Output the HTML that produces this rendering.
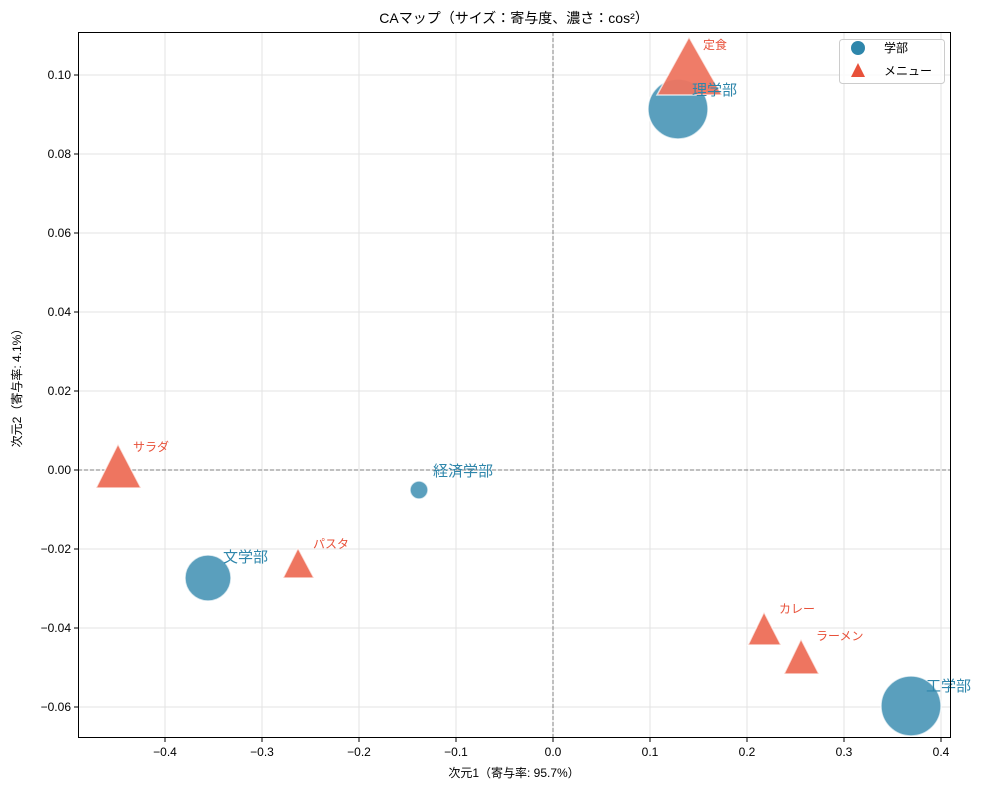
<!DOCTYPE html>
<html><head><meta charset="utf-8"><style>body{margin:0;background:#fff}svg{display:block}text{font-family:"Liberation Sans","Noto Sans CJK JP",sans-serif}</style></head><body>
<svg width="985" height="790" viewBox="0 0 985 790" xmlns="http://www.w3.org/2000/svg">
<rect width="985" height="790" fill="#fff"/>
<g stroke="#e3e3e3" stroke-width="1">
<line x1="165" y1="32" x2="165" y2="738"/><line x1="262" y1="32" x2="262" y2="738"/><line x1="359" y1="32" x2="359" y2="738"/><line x1="456" y1="32" x2="456" y2="738"/><line x1="553" y1="32" x2="553" y2="738"/><line x1="650" y1="32" x2="650" y2="738"/><line x1="747" y1="32" x2="747" y2="738"/><line x1="844" y1="32" x2="844" y2="738"/><line x1="941" y1="32" x2="941" y2="738"/>
<line x1="78" y1="75" x2="951" y2="75"/><line x1="78" y1="154" x2="951" y2="154"/><line x1="78" y1="233" x2="951" y2="233"/><line x1="78" y1="312" x2="951" y2="312"/><line x1="78" y1="391" x2="951" y2="391"/><line x1="78" y1="470" x2="951" y2="470"/><line x1="78" y1="549" x2="951" y2="549"/><line x1="78" y1="628" x2="951" y2="628"/><line x1="78" y1="707" x2="951" y2="707"/>
</g>
<g stroke="#808080" stroke-width="1" stroke-dasharray="4,2"><line x1="78" y1="470" x2="951" y2="470"/><line x1="553" y1="32" x2="553" y2="738"/></g>
<g stroke="#fff" stroke-width="1.5" stroke-opacity="0.7">
<circle cx="678" cy="109" r="30" fill="#5a9fbd"/>
<polygon points="689,37 657,95 722,95" fill="#ee7560" fill-opacity="0.95"/>
<polygon points="118,444 96,488 141,488" fill="#ee7560"/>
<circle cx="419" cy="490" r="9" fill="#5a9fbd"/>
<circle cx="208" cy="578" r="23" fill="#5a9fbd"/>
<polygon points="298,548 283,578 314,578" fill="#ee7560"/>
<polygon points="764,612 748,645 781,645" fill="#ee7560"/>
<polygon points="801,639 784,674 819,674" fill="#ee7560"/>
<circle cx="911" cy="706" r="30" fill="#5a9fbd"/>
</g>
<g fill="#2e86ab" font-size="15">
<text x="692" y="95">理学部</text><text x="433" y="476">経済学部</text><text x="223" y="562">文学部</text><text x="926" y="691">工学部</text>
</g>
<g fill="#e8513a" font-size="12">
<text x="703" y="49">定食</text><text x="133" y="451">サラダ</text><text x="313" y="548">パスタ</text><text x="779" y="613">カレー</text><text x="816" y="640">ラーメン</text>
</g>
<rect x="78.5" y="32.5" width="872" height="705" fill="none" stroke="#000" stroke-width="1"/>
<g stroke="#000"><line x1="165" y1="738" x2="165" y2="742"/><line x1="262" y1="738" x2="262" y2="742"/><line x1="359" y1="738" x2="359" y2="742"/><line x1="456" y1="738" x2="456" y2="742"/><line x1="553" y1="738" x2="553" y2="742"/><line x1="650" y1="738" x2="650" y2="742"/><line x1="747" y1="738" x2="747" y2="742"/><line x1="844" y1="738" x2="844" y2="742"/><line x1="941" y1="738" x2="941" y2="742"/>
<line x1="74" y1="75" x2="78" y2="75"/><line x1="74" y1="154" x2="78" y2="154"/><line x1="74" y1="233" x2="78" y2="233"/><line x1="74" y1="312" x2="78" y2="312"/><line x1="74" y1="391" x2="78" y2="391"/><line x1="74" y1="470" x2="78" y2="470"/><line x1="74" y1="549" x2="78" y2="549"/><line x1="74" y1="628" x2="78" y2="628"/><line x1="74" y1="707" x2="78" y2="707"/></g>
<g font-size="12" fill="#000" text-anchor="middle">
<text x="165" y="756">−0.4</text><text x="262" y="756">−0.3</text><text x="359" y="756">−0.2</text><text x="456" y="756">−0.1</text><text x="553" y="756">0.0</text><text x="650" y="756">0.1</text><text x="747" y="756">0.2</text><text x="844" y="756">0.3</text><text x="941" y="756">0.4</text>
</g>
<g font-size="12" fill="#000" text-anchor="end">
<text x="71" y="79">0.10</text><text x="71" y="158">0.08</text><text x="71" y="237">0.06</text><text x="71" y="316">0.04</text><text x="71" y="395">0.02</text><text x="71" y="474">0.00</text><text x="71" y="553">−0.02</text><text x="71" y="632">−0.04</text><text x="71" y="711">−0.06</text>
</g>
<text x="514" y="777" font-size="12" text-anchor="middle">次元1（寄与率: 95.7%）</text>
<text transform="translate(21,385) rotate(-90)" font-size="12" text-anchor="middle">次元2（寄与率: 4.1%）</text>
<text x="514" y="23" font-size="14" text-anchor="middle">CAマップ（サイズ：寄与度、濃さ：cos²）</text>
<rect x="839.5" y="39.5" width="105" height="44" rx="3" fill="#fff" fill-opacity="0.8" stroke="#ccc"/>
<circle cx="858" cy="48" r="7" fill="#2e86ab"/>
<polygon points="858,63 851,77 865,77" fill="#e8513a"/>
<text x="884" y="52" font-size="12">学部</text>
<text x="884" y="75" font-size="12">メニュー</text>
</svg>
</body></html>
